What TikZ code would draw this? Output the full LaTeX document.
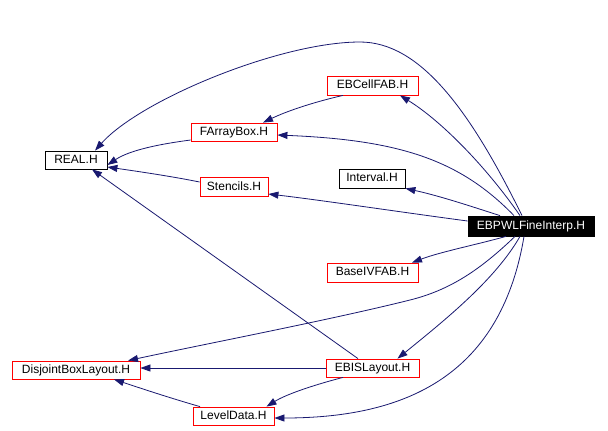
\documentclass[tikz,border=0pt]{standalone}
\usepackage{fontspec}
\setmainfont{Liberation Sans}
\usetikzlibrary{arrows.meta}
\definecolor{edgecol}{HTML}{191970}
\begin{document}
\begin{tikzpicture}[x=1bp,y=-1bp,
  box/.style={draw=black, line width=0.8bp, inner sep=0pt, text height=8.6bp, text depth=2.4bp,
              font=\fontsize{12bp}{14bp}\selectfont},
  hdr/.style={box, draw=red},
  main/.style={box, fill=black, text=white},
  dep/.style={draw=edgecol, line width=0.8bp, -{Triangle[length=10bp,width=7bp]}}]
\useasboundingbox (0,0) rectangle (608,430);
\fill[white] (0,0) rectangle (608,430);
% nodes
\node[box,  minimum width=62bp,  minimum height=18bp] (real)     at (76,160)     {REAL.H};
\node[hdr,  minimum width=86bp,  minimum height=18bp] (farray)   at (234,132)    {FArrayBox.H};
\node[hdr,  minimum width=68bp,  minimum height=19bp] (stencils) at (234,187)    {Stencils.H};
\node[hdr,  minimum width=91bp,  minimum height=19bp] (ebcell)   at (372.5,85.5) {EBCellFAB.H};
\node[box,  minimum width=66bp,  minimum height=19bp] (interval) at (372,178.5)  {Interval.H};
\node[main, minimum width=126bp, minimum height=20bp] (ebpwl)    at (531,226)    {EBPWLFineInterp.H};
\node[hdr,  minimum width=91bp,  minimum height=19bp] (baseiv)   at (372.5,272.5){BaseIVFAB.H};
\node[hdr,  minimum width=93bp,  minimum height=18bp] (ebis)     at (372.5,368)  {EBISLayout.H};
\node[hdr,  minimum width=128bp, minimum height=18bp] (dbl)      at (76,370)     {DisjointBoxLayout.H};
\node[hdr,  minimum width=81bp,  minimum height=18bp] (level)    at (233.5,416)  {LevelData.H};
% edges from EBPWLFineInterp.H
\draw[dep] ([xshift=-9bp]ebpwl.north) .. controls (470,110) and (420,42) .. (360,42)
           .. controls (280,42) and (140,100) .. ([xshift=19bp]real.north);
\draw[dep] ([xshift=-11bp]ebpwl.north) .. controls (485,165) and (440,120) .. ([xshift=27.5bp]ebcell.south);
\draw[dep] ([xshift=-17bp]ebpwl.north) .. controls (460,160) and (400,140) .. ([yshift=-3bp]farray.east);
\draw[dep] ([xshift=-31bp]ebpwl.north) .. controls (470,206) and (440,196) .. (interval.south east);
\draw[dep] ([yshift=5bp]ebpwl.west) .. controls (400,212) and (320,200) .. ([yshift=-7bp]stencils.east);
\draw[dep] ([xshift=-25bp]ebpwl.south) .. controls (475,245) and (440,252) .. ([xshift=39.5bp]baseiv.north);
\draw[dep] ([xshift=-16bp]ebpwl.south) .. controls (480,270) and (450,290) .. (410,300)
           .. controls (330,320) and (200,345) .. ([xshift=52bp]dbl.north);
\draw[dep] ([xshift=-11bp]ebpwl.south) .. controls (495,280) and (445,320) .. ([xshift=25bp]ebis.north);
\draw[dep] ([xshift=-7bp]ebpwl.south) .. controls (500,380) and (400,418) .. ([yshift=-2bp]level.east);
% other edges
\draw[dep] ([yshift=-8bp]farray.west) .. controls (160,144) and (130,150) .. ([yshift=-5bp]real.east);
\draw[dep] ([xshift=-29.5bp]ebcell.south) .. controls (310,103) and (285,112) .. ([xshift=29bp]farray.north);
\draw[dep] ([yshift=5bp]stencils.west) .. controls (170,176) and (135,171) .. ([yshift=-7bp]real.east);
\draw[dep] ([xshift=-14.5bp]ebis.north) -- ([xshift=16bp]real.south);
\draw[dep] (ebis.west) -- (ebis.west -| dbl.east);
\draw[dep] ([xshift=-29.5bp]ebis.south) .. controls (310,386) and (285,395) .. ([xshift=33bp]level.north);
\draw[dep] ([xshift=-33.5bp]level.north) .. controls (170,398) and (140,388) .. ([xshift=38bp]dbl.south);
\end{tikzpicture}
\end{document}
